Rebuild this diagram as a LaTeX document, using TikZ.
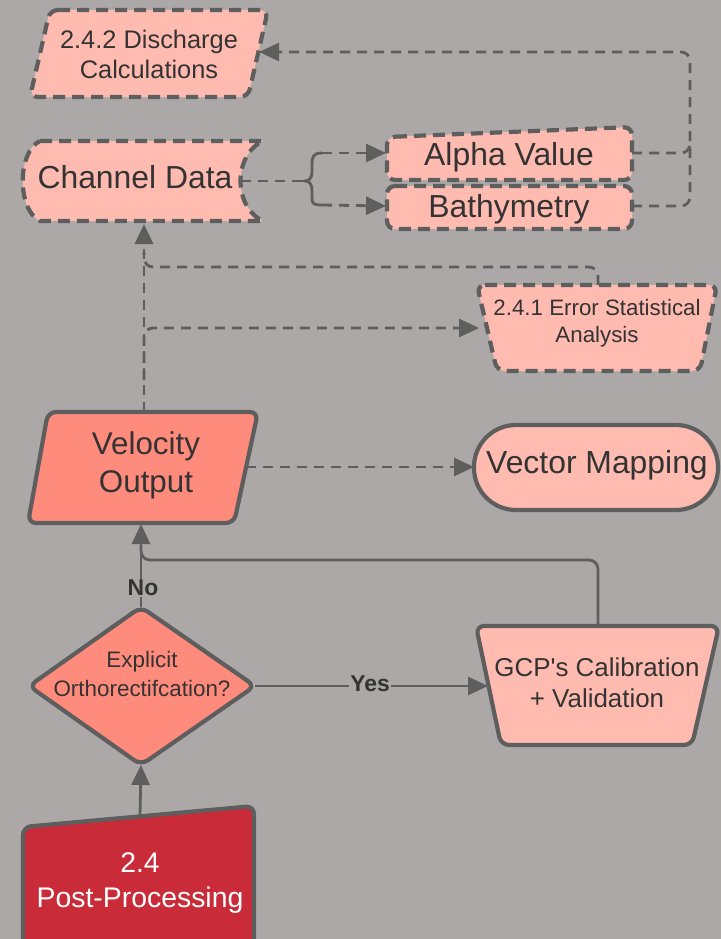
\documentclass[tikz,border=0pt]{standalone}
\usepackage{fontspec}
\setmainfont{Liberation Sans}
\usetikzlibrary{arrows.meta}
\definecolor{bg}{RGB}{171,168,167}
\definecolor{edge}{RGB}{94,94,94}
\definecolor{pale}{RGB}{255,187,176}
\definecolor{salmon}{RGB}{255,139,124}
\definecolor{crimson}{RGB}{201,43,57}
\definecolor{ink}{RGB}{51,51,51}
\begin{document}
\begin{tikzpicture}[x=1bp,y=-1bp,
  shapeline/.style={draw=edge,line width=4.2bp,rounded corners=8bp,line join=round},
  dashedshape/.style={shapeline,dash pattern=on 12bp off 7bp},
  conn/.style={draw=edge,line width=2.8bp,rounded corners=9bp},
  dconn/.style={conn,dash pattern=on 10bp off 7bp},
  tip/.style={-{Triangle[length=20bp,width=18bp]}},
  lbl/.style={text=ink,align=center,inner sep=0pt},
  yesno/.style={text=ink,font=\bfseries\fontsize{23}{26}\selectfont,fill=bg,inner sep=1pt},
]
\fill[bg] (0,0) rectangle (721,939);
\useasboundingbox (0,0) rectangle (721,939);

% ---- shapes ----
% discharge calculations (parallelogram, dashed)
\path[dashedshape,fill=pale] (50,10) -- (268,10) -- (248,97) -- (30,97) -- cycle;
\node[lbl,font=\fontsize{25.5}{30}\selectfont] (dis) at (149,54) {2.4.2 Discharge\\Calculations};
\coordinate (disR) at (259,52);

% channel data (stored data)
\path[draw=edge,line width=4.2bp,dash pattern=on 12bp off 7bp,fill=pale]
  (40,141) -- (263,141) .. controls (233,155) and (233,207) .. (263,221)
  -- (40,221) .. controls (17,210) and (17,152) .. (40,141) -- cycle;
\node[lbl,font=\fontsize{32}{36}\selectfont] (chan) at (135,177) {Channel Data};
\coordinate (chanR) at (241,181);
\coordinate (chanB) at (144,224);

% alpha value and bathymetry
\path[dashedshape,fill=pale] (387,137) -- (632,127) -- (632,180) -- (387,180) -- cycle;
\node[lbl,font=\fontsize{32}{36}\selectfont] (alpha) at (509,157) {Alpha Value};
\path[dashedshape,fill=pale] (387,186) -- (632,186) -- (632,229) -- (387,229) -- cycle;
\node[lbl,font=\fontsize{32}{36}\selectfont] (bathy) at (509,209) {Bathymetry};
\coordinate (alphaL) at (386,153);
\coordinate (alphaR) at (632,153);
\coordinate (bathyL) at (386,206);
\coordinate (bathyR) at (632,206);

% error statistical analysis (trapezium)
\path[dashedshape,fill=pale] (477,285) -- (717,285) -- (700,371) -- (497,371) -- cycle;
\node[lbl,font=\fontsize{22.4}{27}\selectfont] (err) at (597,323) {2.4.1 Error Statistical\\Analysis};
\coordinate (errL) at (479,328);
\coordinate (errT) at (598,285);

% velocity output (parallelogram)
\path[shapeline,fill=salmon] (48,412) -- (258,412) -- (234,523) -- (28,523) -- cycle;
\node[lbl,font=\fontsize{31.5}{38}\selectfont] (vel) at (146,465) {Velocity\\Output};
\coordinate (velT) at (144,412);
\coordinate (velB) at (141,524);
\coordinate (velR) at (246,467);

% vector mapping (terminal)
\path[shapeline,fill=pale,rounded corners=42bp] (474,425) rectangle (718,510);
\node[lbl,font=\fontsize{32}{36}\selectfont] (vec) at (597,465) {Vector Mapping};
\coordinate (vecL) at (474,467);

% decision
\path[shapeline,fill=salmon] (141,607) -- (255,686) -- (141,765) -- (29,686) -- cycle;
\node[lbl,font=\fontsize{22.5}{29}\selectfont] (ortho) at (142,674) {Explicit\\Orthorectifcation?};
\coordinate (orthoT) at (141,607);
\coordinate (orthoB) at (141,765);
\coordinate (orthoR) at (255,686);

% GCP calibration (trapezium)
\path[shapeline,fill=pale] (476,626) -- (719,626) -- (692,745) -- (501,745) -- cycle;
\node[lbl,font=\fontsize{26}{31}\selectfont] (gcp) at (597,683) {GCP\textquotesingle s Calibration\\+ Validation};
\coordinate (gcpL) at (488,686);
\coordinate (gcpT) at (598,626);

% post-processing (manual input)
\path[shapeline,fill=crimson] (23,827) -- (254,806) -- (254,960) -- (23,960) -- cycle;
\node[lbl,text=white,font=\fontsize{28.5}{35}\selectfont] (post) at (140,883) {2.4\\Post-Processing};
\coordinate (postT) at (140,816);

% ---- connectors ----
\draw[conn,tip] (postT) -- (orthoB);
\draw[conn,tip] (orthoT) -- (velB);
\draw[conn] (gcpT) |- (141,560) -- (141,545);
\node[yesno] (no) at (143,588) {No};
\draw[conn,tip] (orthoR) -- (gcpL);
\node[yesno] (yes) at (370,684) {Yes};

\draw[dconn,tip] (velR) -- (vecL);
\draw[dconn,tip] (velT) -- (chanB);
\draw[dconn,tip] (144,380) |- (errL);
\draw[dconn] (errT) |- (144,267) -- (144,252);

% channel data to the brace
\draw[dconn] (chanR) -- (305,181);
\coordinate (braceTop) at (322,153);
\coordinate (braceBot) at (322,205);
\draw[draw=edge,line width=2.8bp]
  (braceTop) .. controls (313,153) and (312,157) .. (312,164) -- (312,172)
  .. controls (312,178) and (309,181) .. (305,181)
  .. controls (309,181) and (312,184) .. (312,190) -- (312,198)
  .. controls (312,204) and (314,205) .. (braceBot);
\draw[dconn,tip] (braceTop) -- (alphaL);
\draw[dconn,tip] (braceBot) -- (bathyL);

% alpha and bathymetry back to discharge
\draw[dconn] (alphaR) -- (690,153) -- (690,140);
\draw[dconn,tip] (bathyR) -- (690,206) -- (690,52) -- (disR);
\end{tikzpicture}
\end{document}
